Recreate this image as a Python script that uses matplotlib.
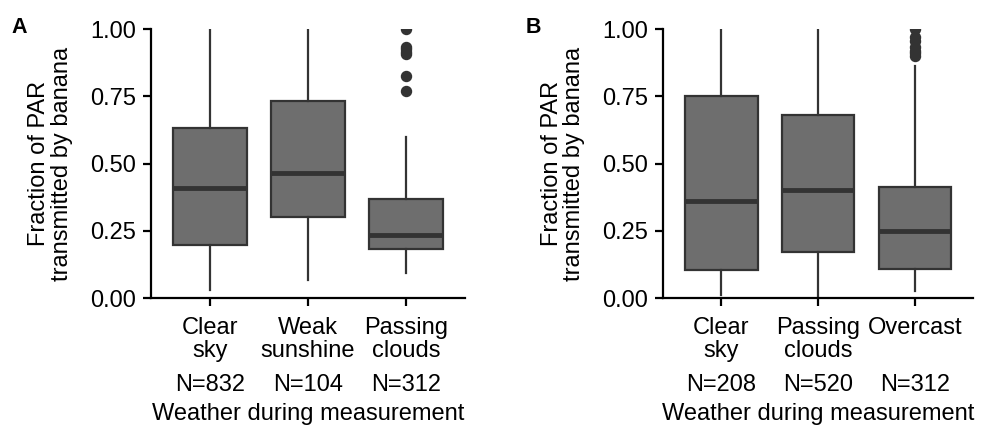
import matplotlib.pyplot as plt
from matplotlib.transforms import blended_transform_factory

plt.rcParams['font.family'] = ['Liberation Sans', 'DejaVu Sans']

# panel A
cats_a = ["Clear\nsky", "Weak\nsunshine", "Passing\nclouds"]
n_a = [832, 104, 312]
whislo_a = [0.03, 0.067, 0.094]
q1_a = [0.196, 0.30, 0.182]
med_a = [0.41, 0.463, 0.234]
q3_a = [0.633, 0.733, 0.367]
whishi_a = [1.00, 1.00, 0.60]
fliers_a = [[], [], [1.0, 0.935, 0.925, 0.915, 0.908, 0.825, 0.77]]

# panel B
cats_b = ["Clear\nsky", "Passing\nclouds", "Overcast"]
n_b = [208, 520, 312]
whislo_b = [0.011, 0.003, 0.026]
q1_b = [0.104, 0.172, 0.107]
med_b = [0.36, 0.40, 0.249]
q3_b = [0.752, 0.68, 0.414]
whishi_b = [1.00, 1.00, 0.862]
fliers_b = [[], [], [1.0, 0.97, 0.955, 0.935, 0.92, 0.91, 0.90]]

yticks = [0, 0.25, 0.5, 0.75, 1.0]
ytick_labels = ["0.00", "0.25", "0.50", "0.75", "1.00"]

box_fill = "#6e6e6e"
dark = "#333333"
fs = 17

fig = plt.figure(figsize=(9.85, 4.28), dpi=100)
ax1 = fig.add_axes([0.1533, 0.3037, 0.3187, 0.6285])
ax2 = fig.add_axes([0.6734, 0.3037, 0.3144, 0.6285])


def draw_panel(ax, cats, n, lo, q1, med, q3, hi, fl, letter):
    stats = []
    for i in range(len(cats)):
        stats.append(dict(whislo=lo[i], q1=q1[i], med=med[i], q3=q3[i],
                          whishi=hi[i], fliers=fl[i]))
    ax.bxp(stats, positions=range(len(cats)), widths=0.75, patch_artist=True,
           showcaps=False,
           boxprops=dict(facecolor=box_fill, edgecolor=dark, linewidth=1.6),
           medianprops=dict(color=dark, linewidth=3.5, solid_capstyle='butt'),
           whiskerprops=dict(color=dark, linewidth=1.6),
           flierprops=dict(marker='o', markerfacecolor=dark, markeredgecolor=dark,
                           markersize=7.2))
    ax.set_xlim(-0.6, len(cats) - 0.4)
    ax.set_ylim(0, 1)
    ax.set_yticks(yticks)
    ax.set_yticklabels(ytick_labels)
    ax.set_xticks(range(len(cats)))
    ax.set_xticklabels(cats, linespacing=1.05)
    for s in ['top', 'right']:
        ax.spines[s].set_visible(False)
    for s in ['left', 'bottom']:
        ax.spines[s].set_linewidth(1.6)
        ax.spines[s].set_color('black')
    ax.tick_params(axis='both', length=6, width=1.6, color='black',
                   labelsize=fs, labelcolor='black', pad=5)
    ax.tick_params(axis='x', pad=8)
    ax.set_ylabel("Fraction of PAR\ntransmitted by banana", fontsize=fs,
                  linespacing=1.05, labelpad=12)
    tr = blended_transform_factory(ax.transData, ax.transAxes)
    for i in range(len(cats)):
        ax.text(i, -0.325, "N=%d" % n[i], transform=tr, ha='center',
                va='center', fontsize=fs)
    ax.set_xlabel("Weather during measurement", fontsize=fs)
    ax.xaxis.set_label_coords(0.5, -0.392)
    ax.text(-0.445, 1.005, letter, transform=ax.transAxes, fontsize=15.5,
            fontweight='bold', ha='left', va='center')


draw_panel(ax1, cats_a, n_a, whislo_a, q1_a, med_a, q3_a, whishi_a, fliers_a, "A")
draw_panel(ax2, cats_b, n_b, whislo_b, q1_b, med_b, q3_b, whishi_b, fliers_b, "B")

fig.savefig("out.png", dpi=100)
